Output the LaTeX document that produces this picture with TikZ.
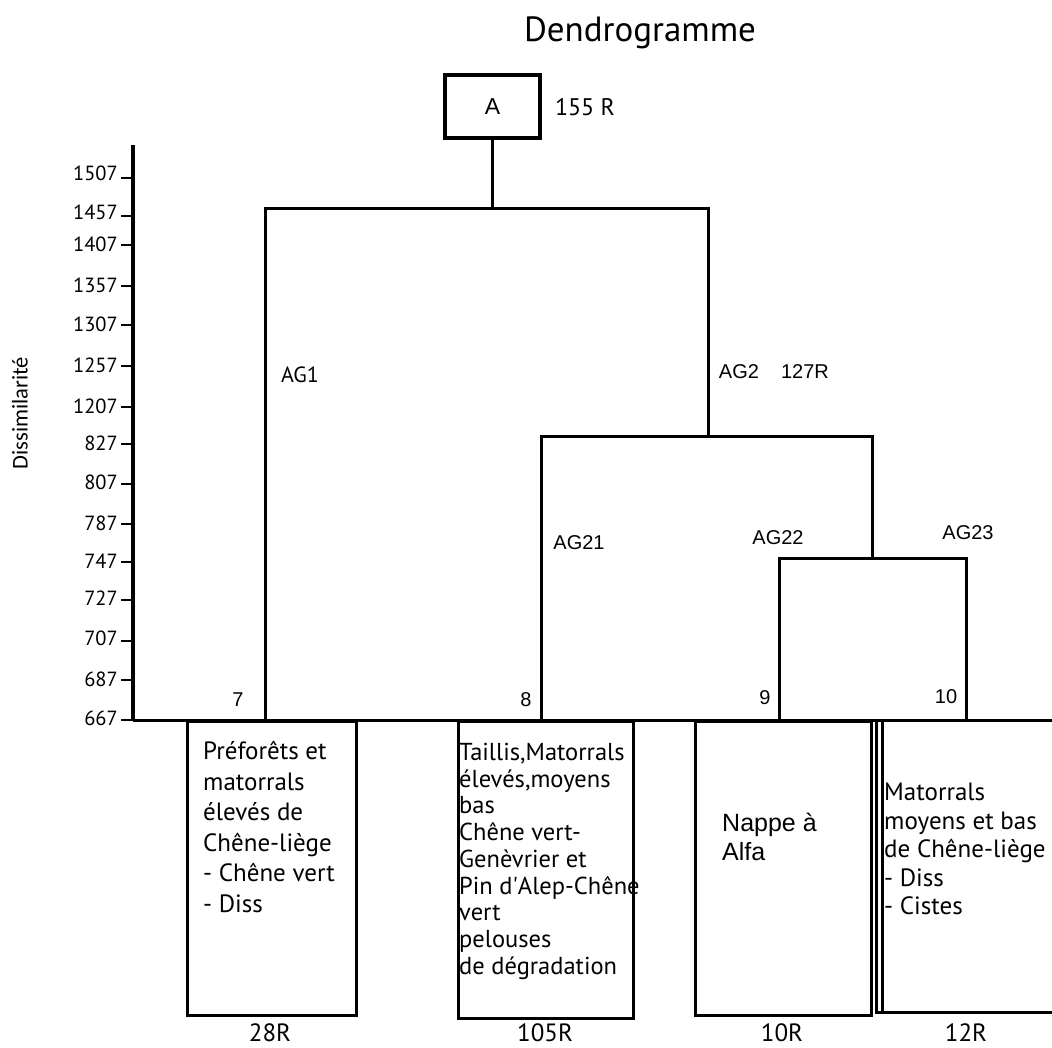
\documentclass[tikz,border=0pt]{standalone}
\usepackage{fontspec}
\setmainfont{PT Sans}
\newfontfamily\arialf{Liberation Sans}
\newfontfamily\calib{Carlito}
\begin{document}
\begin{tikzpicture}[x=1pt,y=-1pt,
  dline/.style={line width=3pt, line join=miter},
  axline/.style={line width=4pt},
  tickline/.style={line width=1.5pt},
  leafbox/.style={draw, line width=3pt, anchor=north west, inner sep=0pt},
  btxt/.style={anchor=north west, inner sep=0pt, align=left, font=\fontsize{25}{30.5}\selectfont},
  mtxt/.style={inner sep=0pt, font=\fontsize{25}{28}\selectfont},
  atxt/.style={inner sep=0pt, font=\arialf\fontsize{20}{24}\selectfont},
  axtxt/.style={inner sep=0pt, anchor=east, font=\fontsize{20.5}{24}\selectfont},
]
\useasboundingbox (0,0) rectangle (1052,1047);
\fill[white] (0,0) rectangle (1052,1047);

% title
\node[inner sep=0pt, font=\fontsize{35}{40}\selectfont] (title) at (640,33) {Dendrogramme};

% root box
\node[draw, line width=3.5pt, minimum width=95pt, minimum height=63pt, inner sep=0pt,
      font=\arialf\fontsize{23}{26}\selectfont] (A) at (492.5,106.5) {A};
\node[mtxt, font=\fontsize{24}{28}\selectfont] (nA) at (585,107) {155 R};

% axis
\coordinate (axtop) at (133,145);
\coordinate (axbot) at (133,720);
\coordinate (baseR) at (1052,720);
\draw[axline] (axtop) -- (axbot);
\draw[dline] (axbot) -- (baseR);

% axis labels and ticks
\foreach \v/\y/\t in {1507/173/178, 1457/212/216, 1407/244/245, 1357/285/286, 1307/324/325,
                      1257/365/366, 1207/406/407, 827/443/444, 807/482/484, 787/523/524,
                      747/561/562, 727/598/600, 707/638/641, 687/679/680, 667/718/720} {
  \node[axtxt] (lab\v) at (118,\y) {\v};
  \coordinate (tk\v) at (133,\t);
  \draw[tickline] (tk\v) -- ++(-12,0);
}
\node[inner sep=0pt, rotate=90, font=\calib\fontsize{22.5}{26}\selectfont] (ylab) at (20,413) {Dissimilarité};

% dendrogram coordinates
\coordinate (c7) at (265,720);
\coordinate (c8) at (541,720);
\coordinate (c9) at (779,720);
\coordinate (c10) at (966,720);
\coordinate (t1) at (265,208);
\coordinate (j1) at (492.5,208);
\coordinate (n1) at (708,436);
\coordinate (b2r) at (872,436);
\coordinate (n2) at (872,559);
\coordinate (b3r) at (966,558);

\draw[dline] (A.south) -- (j1);
\draw[dline] (c7) -- (t1) -| (n1);
\draw[dline] (c8) |- (b2r) -- (n2);
\draw[dline] (c9) |- (b3r) -- (c10);

% cluster labels
\node[inner sep=0pt, font=\fontsize{22}{24}\selectfont] (ag1) at (300,375) {AG1};
\node[atxt] (ag2) at (739,372) {AG2};
\node[atxt] (r127) at (805,372) {127R};
\node[atxt] (ag21) at (579,543) {AG21};
\node[atxt] (ag22) at (778,538) {AG22};
\node[atxt] (ag23) at (968,533) {AG23};
\node[atxt] (k7) at (238,700) {7};
\node[atxt] (k8) at (526,700) {8};
\node[atxt] (k9) at (765,698) {9};
\node[atxt] (k10) at (946,697) {10};

% leaf boxes
\node[leafbox, minimum width=169pt, minimum height=294pt] (box1) at (186,720) {};
\node[leafbox, minimum width=175pt, minimum height=297pt] (box2) at (457,720) {};
\node[leafbox, minimum width=176pt, minimum height=294pt] (box3) at (694,720) {};
\coordinate (b4a) at (876,720);
\coordinate (b4b) at (876,1012);
\coordinate (b4c) at (1060,1012);
\coordinate (b4d) at (882,720);
\coordinate (b4e) at (882,1012);
\draw[dline] (b4a) -- (b4b) -- (b4c);
\draw[dline] (b4d) -- (b4e);

% box texts
\node[btxt] (tx1) at (203,741) {Préforêts et\\matorrals\\élevés de\\Chêne-liège\\- Chêne vert\\- Diss};
\node[btxt, font=\fontsize{24.5}{26.7}\selectfont] (tx2) at (459,743) {Taillis,Matorrals\\élevés,moyens\\bas\\Chêne vert-\\Genèvrier et\\Pin d\textquotesingle Alep-Chêne\\vert\\pelouses\\de dégradation};
\node[btxt, font=\arialf\fontsize{25}{29}\selectfont] (tx3) at (722,813) {Nappe à\\Alfa};
\node[btxt, font=\fontsize{25}{28.5}\selectfont] (tx4) at (884,783) {Matorrals\\moyens et bas\\de Chêne-liège\\- Diss\\- Cistes};

% counts
\node[mtxt] (r28) at (270,1033) {28R};
\node[mtxt] (r105) at (545,1033) {105R};
\node[mtxt] (r10) at (782,1033) {10R};
\node[mtxt] (r12) at (966,1033) {12R};
\end{tikzpicture}
\end{document}
